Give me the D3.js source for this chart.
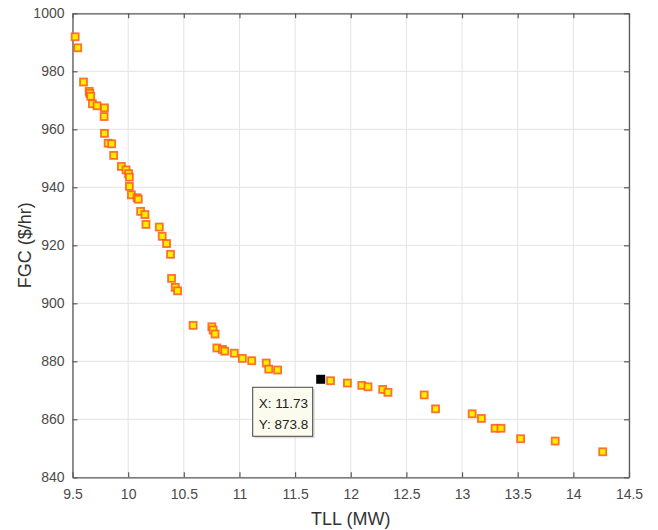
<!DOCTYPE html>
<html><head><meta charset="utf-8">
<script src="https://cdn.jsdelivr.net/npm/d3@7"></script>
<style>body{margin:0;background:#fff}svg{display:block;font-family:"Liberation Sans",Arial,sans-serif}</style>
</head><body>
<svg id="c" width="658" height="530"></svg>
<script>
const tllValues = [9.524,9.547,9.599,9.650,9.655,9.664,9.679,9.721,9.787,9.784,9.787,9.820,9.852,9.870,9.939,9.981,10.004,10.011,10.011,10.029,10.080,10.091,10.112,10.151,10.160,10.280,10.306,10.345,10.381,10.390,10.423,10.444,10.584,10.752,10.763,10.781,10.797,10.847,10.868,10.954,11.026,11.110,11.241,11.263,11.343,11.818,11.970,12.099,12.155,12.287,12.334,12.660,12.762,13.091,13.174,13.297,13.350,13.526,13.837,14.264];
const fgcValues = [991.9,988.1,976.3,973.1,972.4,971.4,968.8,968.1,967.4,964.4,958.6,955.2,955.0,951.0,947.2,946.0,944.7,943.5,940.3,937.4,936.4,935.9,931.7,930.6,927.2,926.3,923.1,920.6,916.9,908.6,905.5,904.3,892.4,891.9,890.8,889.4,884.6,884.1,883.5,882.8,881.0,880.2,879.4,877.3,877.0,873.3,872.5,871.7,871.2,870.3,869.3,868.4,863.6,861.9,860.3,856.9,856.9,853.3,852.5,848.8];
const selectedPoint = [11.73, 873.8];
const xTicks = [9.5,10,10.5,11,11.5,12,12.5,13,13.5,14,14.5];
const yTicks = [840,860,880,900,920,940,960,980,1000];
const xTitle = "TLL (MW)";
const yTitle = "FGC ($/hr)";

const svg = d3.select("#c");
const L=72.5, R=629, T=13.3, B=477.3;
const x = d3.scaleLinear().domain([9.5,14.5]).range([L,R]);
const y = d3.scaleLinear().domain([840,1000]).range([B,T]);

// grid
svg.append("g").selectAll("line").data(xTicks).join("line")
  .attr("x1",d=>x(d)).attr("x2",d=>x(d)).attr("y1",T).attr("y2",B)
  .attr("stroke","#e3e3e3").attr("stroke-width",1);
svg.append("g").selectAll("line").data(yTicks).join("line")
  .attr("y1",d=>y(d)).attr("y2",d=>y(d)).attr("x1",L).attr("x2",R)
  .attr("stroke","#e3e3e3").attr("stroke-width",1);

// axes
const fmt = d=>String(d);
const gx = svg.append("g").attr("transform",`translate(0,${B})`)
  .call(d3.axisBottom(x).tickValues(xTicks).tickFormat(fmt).tickSizeInner(-5).tickSizeOuter(0).tickPadding(12));
const gxt = svg.append("g").attr("transform",`translate(0,${T})`)
  .call(d3.axisTop(x).tickValues(xTicks).tickFormat("").tickSizeInner(-5).tickSizeOuter(0));
const gy = svg.append("g").attr("transform",`translate(${L},0)`)
  .call(d3.axisLeft(y).tickValues(yTicks).tickFormat(fmt).tickSizeInner(-5).tickSizeOuter(0).tickPadding(8));
const gyr = svg.append("g").attr("transform",`translate(${R},0)`)
  .call(d3.axisRight(y).tickValues(yTicks).tickFormat("").tickSizeInner(-5).tickSizeOuter(0));
[gx,gxt,gy,gyr].forEach(g=>{
  g.select(".domain").attr("stroke","#5a5a5a").attr("stroke-width",1.3);
  g.selectAll(".tick line").attr("stroke","#5a5a5a").attr("stroke-width",1.2);
  g.selectAll("text").attr("fill","#4a4a4a").style("font-size","14px").style("font-family","\"Liberation Sans\",Arial,sans-serif");
});

// titles
svg.append("text").attr("x",(L+R)/2).attr("y",525).attr("text-anchor","middle")
  .attr("fill","#333").style("font-size","18px").text(xTitle);
svg.append("text").attr("transform",`translate(31,${(T+B)/2}) rotate(-90)`).attr("text-anchor","middle")
  .attr("fill","#333").style("font-size","18px").text(yTitle);

// points
const data = tllValues.map((v,i)=>[v,fgcValues[i]]);
const s = 7;
svg.append("g").selectAll("rect").data(data).join("rect")
  .attr("x",d=>x(d[0])-s/2).attr("y",d=>y(d[1])-s/2).attr("width",s).attr("height",s)
  .attr("fill","#ffee00").attr("stroke","#ff5a1a").attr("stroke-opacity",0.85).attr("stroke-width",1.8);

// selected
svg.append("rect").attr("x",x(selectedPoint[0])-4.5).attr("y",y(selectedPoint[1])-4.5)
  .attr("width",9).attr("height",9).attr("fill","#000");

// tooltip
const tx = x(selectedPoint[0])-68, ty = y(selectedPoint[1])+8;
svg.append("rect").attr("x",tx+2).attr("y",ty+2).attr("width",60).attr("height",49).attr("fill","#bbb").attr("opacity",0.5);
svg.append("rect").attr("x",tx).attr("y",ty).attr("width",60).attr("height",49)
  .attr("fill","#fbfbee").attr("stroke","#444").attr("stroke-width",1);
svg.append("text").attr("x",tx+6).attr("y",ty+21).attr("fill","#222").style("font-size","13.5px")
  .text("X: "+selectedPoint[0].toFixed(2));
svg.append("text").attr("x",tx+6).attr("y",ty+42).attr("fill","#222").style("font-size","13.5px")
  .text("Y: "+selectedPoint[1].toFixed(1));
</script>
</body></html>
